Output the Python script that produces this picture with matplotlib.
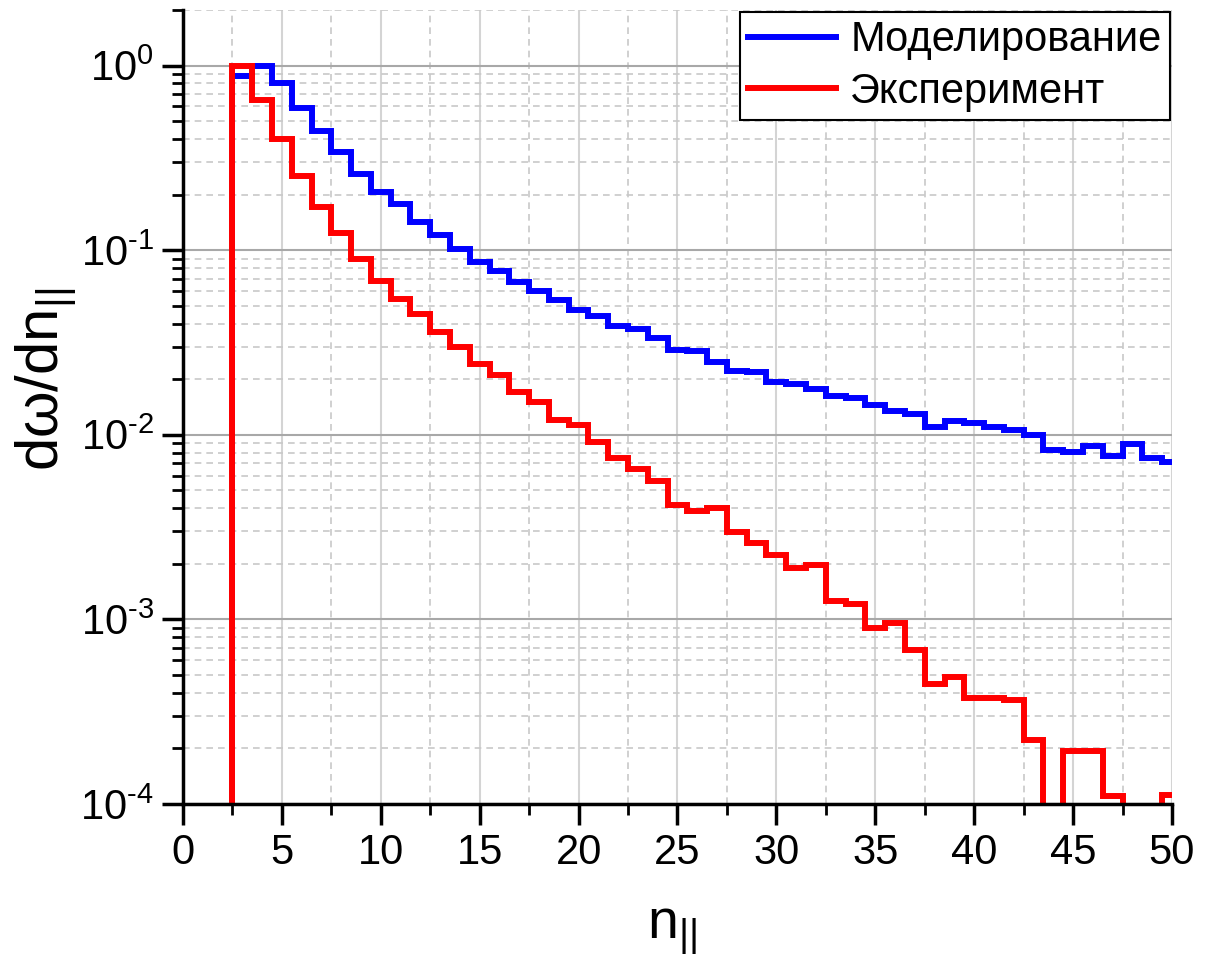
import numpy as np
import matplotlib
matplotlib.use('Agg')
import matplotlib.pyplot as plt
from matplotlib.ticker import MultipleLocator, LogLocator, NullFormatter, FuncFormatter

plt.rcParams['font.family'] = ['Liberation Sans', 'DejaVu Sans']
plt.rcParams['mathtext.fontset'] = 'custom'
plt.rcParams['mathtext.rm'] = 'Liberation Sans'
plt.rcParams['mathtext.it'] = 'Liberation Sans:italic'
plt.rcParams['mathtext.bf'] = 'Liberation Sans:bold'

# bin edges of the histograms (bin centres 3 ... 50)
bin_start = 2.5
bin_width = 1.0

# Моделирование (simulation)
sim = [0.88, 1.0, 0.80, 0.59, 0.44, 0.34, 0.257, 0.206, 0.177, 0.142,
       0.121, 0.101, 0.086, 0.077, 0.067, 0.060, 0.054, 0.0476, 0.0439, 0.0386,
       0.0376, 0.0334, 0.0288, 0.0283, 0.0249, 0.0222, 0.0218, 0.0194, 0.0188, 0.0177,
       0.0162, 0.0158, 0.0145, 0.0134, 0.0130, 0.0110, 0.0119, 0.0116, 0.0110, 0.0106,
       0.0100, 0.0083, 0.0081, 0.0087, 0.0077, 0.0089, 0.0075, 0.0071]

# Эксперимент (experiment)
exp = [1.0, 0.649, 0.401, 0.252, 0.172, 0.124, 0.0892, 0.068, 0.0543, 0.0451,
       0.0360, 0.0297, 0.0241, 0.0211, 0.0171, 0.0151, 0.01205, 0.0113, 0.0091, 0.00752,
       0.00654, 0.00565, 0.00418, 0.00387, 0.00402, 0.00298, 0.00260, 0.00224, 0.00189, 0.00196,
       0.00126, 0.00121, 0.000896, 0.00096, 0.000682, 0.000445, 0.000487, 0.000373, 0.000373, 0.000366,
       0.000221, 0.0, 0.000194, 0.000194, 0.000110, 0.0, 0.0, 0.000112]

labels = ['Моделирование', 'Эксперимент']
x_ticks = [0, 5, 10, 15, 20, 25, 30, 35, 40, 45, 50]

edges = bin_start + bin_width * np.arange(len(sim) + 1)
floor = 1e-7

fig = plt.figure(figsize=(12.25, 9.57), dpi=100)
ax = fig.add_axes([0.1494, 0.1599, 0.9567 - 0.1494, 0.9896 - 0.1599])

ax.set_yscale('log')
ax.set_xlim(0, 50)
ax.set_ylim(1e-4, 2.0)

lw = 4.3
sim_arr = np.where(np.array(sim) > 0, sim, floor)
exp_arr = np.where(np.array(exp) > 0, exp, floor)
ax.stairs(sim_arr, edges, baseline=floor, color='#0000ff', linewidth=lw,
          label=labels[0], zorder=3)
ax.stairs(exp_arr, edges, baseline=floor, color='#ff0000', linewidth=lw,
          label=labels[1], zorder=4)

# ticks
ax.set_xticks(x_ticks)
ax.xaxis.set_minor_locator(MultipleLocator(2.5))
ax.yaxis.set_major_locator(LogLocator(base=10, numticks=10))
ax.yaxis.set_minor_locator(LogLocator(base=10, subs=np.arange(2, 10), numticks=20))
ax.yaxis.set_minor_formatter(NullFormatter())


def log_fmt(v, pos):
    e = int(round(np.log10(v)))
    s = str(abs(e))
    if e < 0:
        s = '\u2010' + s
    return r'10$^{\mathregular{%s}}$' % s


ax.yaxis.set_major_formatter(FuncFormatter(log_fmt))

ax.tick_params(axis='both', which='major', length=15, width=2.5, labelsize=30,
               direction='out', pad=6, color='black')
ax.tick_params(axis='both', which='minor', length=8, width=2.0, direction='out',
               color='black')

# grid
ax.grid(True, which='major', axis='x', color='#d4d4d4', linewidth=1.5, linestyle='-')
ax.grid(True, which='major', axis='y', color='#a8a8a8', linewidth=1.5, linestyle='-')
ax.grid(True, which='minor', axis='both', color='#c8c8c8', linewidth=1.2,
        linestyle=(0, (4, 3)))
ax.set_axisbelow(True)

for s in ['top', 'right']:
    ax.spines[s].set_visible(False)
for s in ['left', 'bottom']:
    ax.spines[s].set_linewidth(2.5)
    ax.spines[s].set_zorder(5)

ax.set_xlabel('n$_{||}$', fontsize=40)
ax.xaxis.set_label_coords(0.495, -0.127)
ax.set_ylabel('dω/dn$_{||}$', fontsize=43)
ax.yaxis.set_label_coords(-0.105, 0.535)

leg = ax.legend(loc='upper right', fontsize=30, frameon=True, fancybox=False,
                edgecolor='black', framealpha=1.0, handlelength=2.1,
                handletextpad=0.35, borderaxespad=0.05, borderpad=0.2,
                labelspacing=0.28)
leg.get_frame().set_linewidth(1.5)
leg.set_zorder(10)

fig.savefig('out.png', dpi=100)
